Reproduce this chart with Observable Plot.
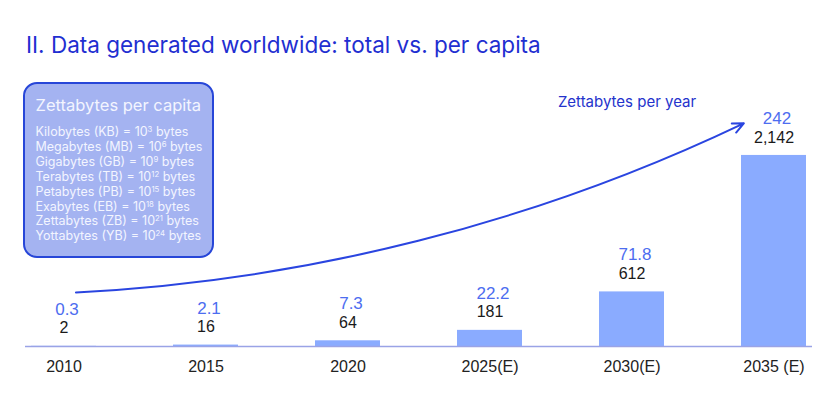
<!DOCTYPE html>
<html><head><meta charset="utf-8">
<script src="https://cdn.jsdelivr.net/npm/d3@7"></script>
<script src="https://cdn.jsdelivr.net/npm/@observablehq/plot@0.6"></script>
<style>
body{margin:0;background:#fff;width:830px;height:393px;overflow:hidden;position:relative;font-family:Inter,"Liberation Sans",sans-serif}
#title{height:70px;box-sizing:border-box;padding:31px 0 0 26px;font:400 22.5px/27px Inter,sans-serif;color:#1f2fd1;white-space:nowrap}
#legend{position:absolute;left:23px;top:82px;width:191px;height:176px;box-sizing:border-box;border:2.5px solid #2746d8;border-radius:14px;background:#a4b3f1;color:#f3f5ff;padding:10.5px 0 0 10.5px}
#legend .lt{font-size:16.5px;line-height:20px;white-space:nowrap}
#legend .ll{margin-top:10.5px;font-size:12.5px;line-height:14.9px;white-space:nowrap}
#legend sup{font-size:0.62em;vertical-align:0.5em;line-height:0}
#chart svg{display:block}
</style></head>
<body>
<div id="title"></div>
<div id="chart"></div>
<div id="legend"><div class="lt"></div><div class="ll"></div></div>
<script>
// ---- data ----
const years = ["2010","2015","2020","2025(E)","2030(E)","2035 (E)"];
const totalZB = [2,16,64,181,612,2142];           // Zettabytes per year (black labels, bar heights)
const perCapita = [0.3,2.1,7.3,22.2,71.8,242];    // per capita (blue labels)
const titleText = "II. Data generated worldwide: total vs. per capita";
const arrowLabel = "Zettabytes per year";
const legendTitle = "Zettabytes per capita";
const unitNames = ["Kilobytes (KB)","Megabytes (MB)","Gigabytes (GB)","Terabytes (TB)","Petabytes (PB)","Exabytes (EB)","Zettabytes (ZB)","Yottabytes (YB)"];
const unitExponents = [3,6,9,12,15,18,21,24];
// annotation anchors (data space)
const arrowFrom = {x:"2010", y:594};
const arrowTo = {x:"2035 (E)", y:2590};
const arrowLabelAt = {x:"2030(E)", y:2735};

// ---- build ----
document.getElementById("title").textContent = titleText;
document.querySelector("#legend .lt").textContent = legendTitle;
document.querySelector("#legend .ll").innerHTML = unitNames.map((n,i)=>`<div>${n} = 10<sup>${unitExponents[i]}</sup> bytes</div>`).join("");

const rows = years.map((y,i)=>({year:y, total:totalZB[i], pc:perCapita[i]}));
const fmt = d3.format(",");

const chart = Plot.plot({
  width:830, height:323,
  marginLeft:25, marginRight:18, marginTop:20, marginBottom:47,
  x:{domain:years, paddingInner:0.545, paddingOuter:0, insetLeft:3.5, insetRight:3.5, axis:null},
  y:{domain:[0,2870], axis:null},
  style:{fontFamily:"'Liberation Sans', Arial, sans-serif", fontSize:"16px", color:"#222", overflow:"visible", background:"transparent"},
  marks:[
    Plot.barY(rows,{x:"year", y:"total", fill:"#8aabff"}),
    Plot.ruleY([0],{stroke:"#9aa3e6", strokeWidth:1.5}),
    Plot.axisX({tickSize:0, tickPadding:14, fontSize:16, fill:"#222", label:null}),
    Plot.text(rows,{x:"year", y:"total", text:d=>fmt(d.total), dy:-18, fill:"#1a1a1a", fontSize:16, lineAnchor:"middle"}),
    Plot.text(rows,{x:"year", y:"total", text:d=>String(d.pc), dy:-37, dx:3, fill:"#4d6df0", fontSize:17, lineAnchor:"middle"}),
    Plot.arrow([{x1:arrowFrom.x, y1:arrowFrom.y, x2:arrowTo.x, y2:arrowTo.y}],
      {x1:"x1", y1:"y1", x2:"x2", y2:"y2", bend:-12, stroke:"#2a45e0", strokeWidth:2, dx:-14, insetStart:26, insetEnd:18, headLength:9, headAngle:50}),
    Plot.text([arrowLabelAt],{x:"x", y:"y", text:()=>arrowLabel, dx:-5, fill:"#2433cc", fontSize:15, fontFamily:"Inter, sans-serif", lineAnchor:"middle"})
  ]
});
document.getElementById("chart").appendChild(chart);
</script>
</body></html>
